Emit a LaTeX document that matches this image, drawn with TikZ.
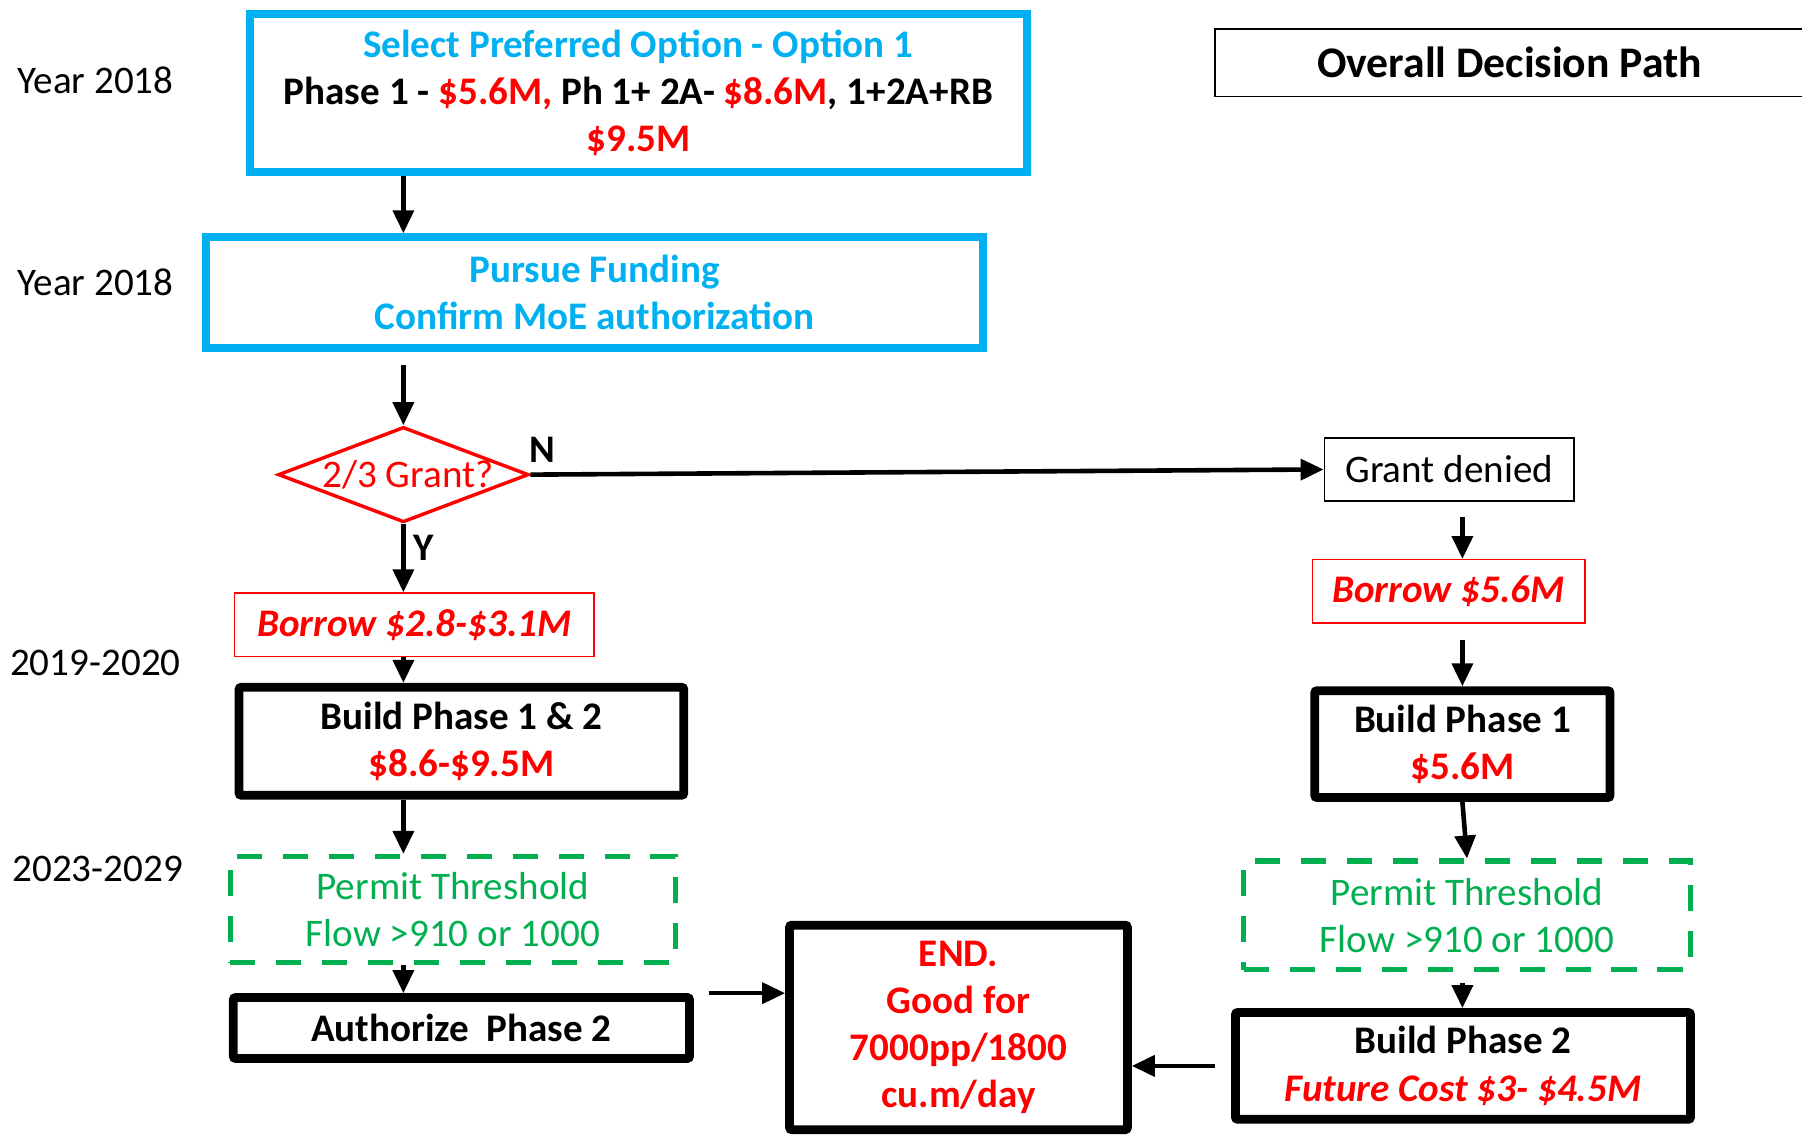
\documentclass[tikz,border=0pt]{standalone}
\usepackage{fontspec}
\setmainfont{Carlito}
\usetikzlibrary{arrows.meta,shapes.geometric,calc}
\definecolor{cy}{HTML}{00B0F0}
\definecolor{rd}{HTML}{FF0000}
\definecolor{gr}{HTML}{00B050}
\begin{document}
\begin{tikzpicture}[x=0.5pt,y=-0.5pt,
  every node/.style={font=\fontsize{17pt}{20.5pt}\selectfont, inner sep=0pt, align=center},
  cybox/.style={draw=cy, line width=3.5pt, text=cy, font=\fontsize{17pt}{20.5pt}\selectfont\bfseries},
  blkbox/.style={draw=black, line width=3.8pt, rounded corners=1pt, font=\fontsize{17pt}{20.5pt}\selectfont\bfseries},
  thinbox/.style={draw=black, line width=0.8pt},
  redbox/.style={draw=rd, line width=0.6pt, text=rd, font=\fontsize{17pt}{20.5pt}\selectfont\bfseries\itshape},
  grbox/.style={draw=gr, line width=2.2pt, dash pattern=on 11pt off 9pt, text=gr},
  diam/.style={draw=rd, line width=1.5pt, diamond, minimum width=109pt, minimum height=41.5pt},
  yearlbl/.style={text=black},
  arr/.style={line width=2pt, -{Triangle[width=9pt,length=10pt]}}
]
\useasboundingbox (0,0) rectangle (1568,989);

% year labels
\node[yearlbl] (y1) at (83,70) {Year 2018};
\node[yearlbl] (y2) at (83,246) {Year 2018};
\node[yearlbl] (y3) at (83,577) {2019-2020};
\node[yearlbl] (y4) at (85,756) {2023-2029};

% title
\node[thinbox, minimum width=256.5pt, minimum height=29.5pt, font=\fontsize{19pt}{22pt}\selectfont\bfseries] (title) at (1313.5,54.5) {Overall Decision Path};

% left column
\node[cybox, minimum width=338pt, minimum height=68.5pt] (box1) at (555.5,81)
  {Select Preferred Option - Option 1\\
   \textcolor{black}{Phase 1 - \textcolor{rd}{\$5.6M,} Ph 1+ 2A- \textcolor{rd}{\$8.6M}, 1+2A+RB}\\
   \textcolor{rd}{\$9.5M}};
\node[cybox, minimum width=338pt, minimum height=48pt] (box2) at (517.5,254.5)
  {Pursue Funding\\Confirm MoE authorization};
\node[diam] (dia) at (351,413) {};
\node[text=rd] (diatext) at (355,413) {2/3 Grant?};
\node[font=\fontsize{17pt}{20.5pt}\selectfont\bfseries] (nlbl) at (472,391) {N};
\node[font=\fontsize{17pt}{20.5pt}\selectfont\bfseries] (ylbl) at (369,477) {Y};
\node[redbox, minimum width=156.5pt, minimum height=27.5pt] (bor1) at (360.5,543.5) {Borrow \$2.8-\$3.1M};
\node[blkbox, minimum width=193.5pt, minimum height=47pt] (b12) at (401.5,645)
  {Build Phase 1 \& 2\\\textcolor{rd}{\$8.6-\$9.5M}};
\node[grbox, minimum width=193.8pt, minimum height=46.3pt] (perl) at (394,791.5)
  {Permit Threshold\\Flow >910 or 1000};
\node[blkbox, minimum width=198.5pt, minimum height=26.5pt] (auth) at (401.5,894.5) {Authorize~ Phase 2};
\node[blkbox, minimum width=147pt, minimum height=89pt, text=rd] (endb) at (834,894)
  {END.\\Good for\\7000pp/1800\\cu.m/day};

% right column
\node[thinbox, minimum width=108.5pt, minimum height=27.5pt] (gd) at (1261,408.5) {Grant denied};
\node[redbox, minimum width=118.5pt, minimum height=27.5pt] (bor2) at (1260.5,514.5) {Borrow \$5.6M};
\node[blkbox, minimum width=128.5pt, minimum height=46.5pt] (b1r) at (1272.5,647.5)
  {Build Phase 1\\\textcolor{rd}{\$5.6M}};
\node[grbox, minimum width=194.3pt, minimum height=47.3pt] (perr) at (1276.5,796.5)
  {Permit Threshold\\Flow >910 or 1000};
\node[blkbox, minimum width=198pt, minimum height=46.5pt] (b2r) at (1273,927.5)
  {Build Phase 2\\\textcolor{rd}{\itshape Future Cost \$3- \$4.5M}};

% connectors left
\draw[arr] (dia.north |- box1.south) -- (dia.north |- box2.north);
\draw[arr, shorten <=6pt] (dia.north |- box2.south) -- (dia.north);
\draw[arr] (dia.east) -- (gd.west);
\draw[arr] (dia.south) -- (dia.south |- bor1.north);
\draw[arr] (dia.south |- bor1.south) -- (dia.south |- b12.north);
\draw[arr] (dia.south |- b12.south) -- (dia.south |- perl.north);
\draw[arr] (dia.south |- perl.south) -- (dia.south |- auth.north);
\draw[arr, shorten <=6.5pt] (auth.north east) -- (auth.north east -| endb.west);

% connectors right
\draw[arr, shorten <=6.5pt] (b1r.north |- gd.south) -- (b1r.north |- bor2.north);
\draw[arr, shorten <=7pt] (b1r.north |- bor2.south) -- (b1r.north);
\draw[arr] (b1r.south) -- (perr.north);
\draw[arr, shorten <=4.5pt] (b1r.south |- perr.south) -- (b1r.south |- b2r.north);
\draw[arr, shorten <=7pt] (b2r.west) -- (b2r.west -| endb.east);
\end{tikzpicture}
\end{document}
